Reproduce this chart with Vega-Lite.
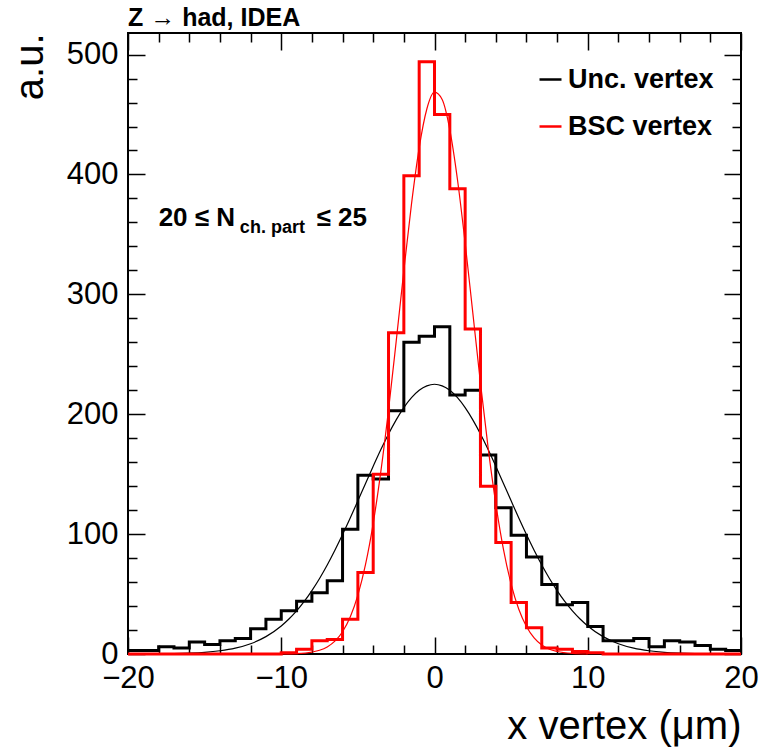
{
  "$schema": "https://vega.github.io/schema/vega-lite/v6.json",
  "autosize": {"type": "none"},
  "padding": {"left": 128, "top": 33, "right": 24, "bottom": 94},
  "width": 613,
  "height": 621,
  "background": "white",
  "title": {"text": "Z → had, IDEA", "anchor": "start", "frame": "group", "font": "Liberation Sans", "fontSize": 25, "fontWeight": "bold", "color": "black", "baseline": "alphabetic", "offset": -19},
  "datasets": {
    "unc_hist": [
      {"x": -20, "v": 3, "s": "Unc. vertex"}, {"x": -19, "v": 3, "s": "Unc. vertex"}, {"x": -18, "v": 6, "s": "Unc. vertex"}, {"x": -17, "v": 5, "s": "Unc. vertex"},
      {"x": -16, "v": 10, "s": "Unc. vertex"}, {"x": -15, "v": 8, "s": "Unc. vertex"}, {"x": -14, "v": 11, "s": "Unc. vertex"}, {"x": -13, "v": 13, "s": "Unc. vertex"},
      {"x": -12, "v": 21, "s": "Unc. vertex"}, {"x": -11, "v": 29, "s": "Unc. vertex"}, {"x": -10, "v": 36, "s": "Unc. vertex"}, {"x": -9, "v": 44, "s": "Unc. vertex"},
      {"x": -8, "v": 51, "s": "Unc. vertex"}, {"x": -7, "v": 61, "s": "Unc. vertex"}, {"x": -6, "v": 104, "s": "Unc. vertex"}, {"x": -5, "v": 149, "s": "Unc. vertex"},
      {"x": -4, "v": 146, "s": "Unc. vertex"}, {"x": -3, "v": 203, "s": "Unc. vertex"}, {"x": -2, "v": 260, "s": "Unc. vertex"}, {"x": -1, "v": 265, "s": "Unc. vertex"},
      {"x": 0, "v": 273, "s": "Unc. vertex"}, {"x": 1, "v": 216, "s": "Unc. vertex"}, {"x": 2, "v": 220, "s": "Unc. vertex"}, {"x": 3, "v": 166, "s": "Unc. vertex"},
      {"x": 4, "v": 122, "s": "Unc. vertex"}, {"x": 5, "v": 99, "s": "Unc. vertex"}, {"x": 6, "v": 81, "s": "Unc. vertex"}, {"x": 7, "v": 58, "s": "Unc. vertex"},
      {"x": 8, "v": 41, "s": "Unc. vertex"}, {"x": 9, "v": 43, "s": "Unc. vertex"}, {"x": 10, "v": 23, "s": "Unc. vertex"}, {"x": 11, "v": 11, "s": "Unc. vertex"},
      {"x": 12, "v": 11, "s": "Unc. vertex"}, {"x": 13, "v": 13, "s": "Unc. vertex"}, {"x": 14, "v": 6, "s": "Unc. vertex"}, {"x": 15, "v": 11, "s": "Unc. vertex"},
      {"x": 16, "v": 10, "s": "Unc. vertex"}, {"x": 17, "v": 7, "s": "Unc. vertex"}, {"x": 18, "v": 4, "s": "Unc. vertex"}, {"x": 19, "v": 3, "s": "Unc. vertex"},
      {"x": 20, "v": 3, "s": "Unc. vertex"}
    ],
    "bsc_hist": [
      {"x": -20, "v": 0, "s": "BSC vertex"}, {"x": -19, "v": 0, "s": "BSC vertex"}, {"x": -18, "v": 0, "s": "BSC vertex"}, {"x": -17, "v": 0, "s": "BSC vertex"},
      {"x": -16, "v": 0, "s": "BSC vertex"}, {"x": -15, "v": 0, "s": "BSC vertex"}, {"x": -14, "v": 0, "s": "BSC vertex"}, {"x": -13, "v": 0, "s": "BSC vertex"},
      {"x": -12, "v": 0, "s": "BSC vertex"}, {"x": -11, "v": 0, "s": "BSC vertex"}, {"x": -10, "v": 1, "s": "BSC vertex"}, {"x": -9, "v": 4, "s": "BSC vertex"},
      {"x": -8, "v": 11, "s": "BSC vertex"}, {"x": -7, "v": 12, "s": "BSC vertex"}, {"x": -6, "v": 29, "s": "BSC vertex"}, {"x": -5, "v": 68, "s": "BSC vertex"},
      {"x": -4, "v": 150, "s": "BSC vertex"}, {"x": -3, "v": 268, "s": "BSC vertex"}, {"x": -2, "v": 399, "s": "BSC vertex"}, {"x": -1, "v": 494, "s": "BSC vertex"},
      {"x": 0, "v": 450, "s": "BSC vertex"}, {"x": 1, "v": 388, "s": "BSC vertex"}, {"x": 2, "v": 271, "s": "BSC vertex"}, {"x": 3, "v": 140, "s": "BSC vertex"},
      {"x": 4, "v": 93, "s": "BSC vertex"}, {"x": 5, "v": 43, "s": "BSC vertex"}, {"x": 6, "v": 22, "s": "BSC vertex"}, {"x": 7, "v": 5, "s": "BSC vertex"},
      {"x": 8, "v": 4, "s": "BSC vertex"}, {"x": 9, "v": 2, "s": "BSC vertex"}, {"x": 10, "v": 1, "s": "BSC vertex"}, {"x": 11, "v": 0, "s": "BSC vertex"},
      {"x": 12, "v": 0, "s": "BSC vertex"}, {"x": 13, "v": 0, "s": "BSC vertex"}, {"x": 14, "v": 0, "s": "BSC vertex"}, {"x": 15, "v": 0, "s": "BSC vertex"},
      {"x": 16, "v": 0, "s": "BSC vertex"}, {"x": 17, "v": 0, "s": "BSC vertex"}, {"x": 18, "v": 0, "s": "BSC vertex"}, {"x": 19, "v": 0, "s": "BSC vertex"},
      {"x": 20, "v": 0, "s": "BSC vertex"}
    ],
    "unc_fit": [
      {"x": -20, "v": 0.03, "s": "Unc. vertex"}, {"x": -18, "v": 0.15, "s": "Unc. vertex"}, {"x": -17, "v": 0.3, "s": "Unc. vertex"}, {"x": -16, "v": 0.7, "s": "Unc. vertex"},
      {"x": -15, "v": 1.4, "s": "Unc. vertex"}, {"x": -14, "v": 2.7, "s": "Unc. vertex"}, {"x": -13, "v": 4.9, "s": "Unc. vertex"}, {"x": -12, "v": 8.6, "s": "Unc. vertex"},
      {"x": -11, "v": 14.5, "s": "Unc. vertex"}, {"x": -10, "v": 23.4, "s": "Unc. vertex"}, {"x": -9.5, "v": 29.2, "s": "Unc. vertex"}, {"x": -9, "v": 36, "s": "Unc. vertex"},
      {"x": -8.5, "v": 43.9, "s": "Unc. vertex"}, {"x": -8, "v": 52.9, "s": "Unc. vertex"}, {"x": -7.5, "v": 63, "s": "Unc. vertex"}, {"x": -7, "v": 74.2, "s": "Unc. vertex"},
      {"x": -6.5, "v": 86.5, "s": "Unc. vertex"}, {"x": -6, "v": 99.6, "s": "Unc. vertex"}, {"x": -5.5, "v": 113.4, "s": "Unc. vertex"}, {"x": -5, "v": 127.8, "s": "Unc. vertex"},
      {"x": -4.5, "v": 142.3, "s": "Unc. vertex"}, {"x": -4, "v": 156.6, "s": "Unc. vertex"}, {"x": -3.5, "v": 170.5, "s": "Unc. vertex"}, {"x": -3, "v": 183.5, "s": "Unc. vertex"},
      {"x": -2.5, "v": 195.3, "s": "Unc. vertex"}, {"x": -2, "v": 205.5, "s": "Unc. vertex"}, {"x": -1.5, "v": 213.8, "s": "Unc. vertex"}, {"x": -1, "v": 220, "s": "Unc. vertex"},
      {"x": -0.5, "v": 223.7, "s": "Unc. vertex"}, {"x": 0, "v": 225, "s": "Unc. vertex"}, {"x": 0.5, "v": 223.7, "s": "Unc. vertex"}, {"x": 1, "v": 220, "s": "Unc. vertex"},
      {"x": 1.5, "v": 213.8, "s": "Unc. vertex"}, {"x": 2, "v": 205.5, "s": "Unc. vertex"}, {"x": 2.5, "v": 195.3, "s": "Unc. vertex"}, {"x": 3, "v": 183.5, "s": "Unc. vertex"},
      {"x": 3.5, "v": 170.5, "s": "Unc. vertex"}, {"x": 4, "v": 156.6, "s": "Unc. vertex"}, {"x": 4.5, "v": 142.3, "s": "Unc. vertex"}, {"x": 5, "v": 127.8, "s": "Unc. vertex"},
      {"x": 5.5, "v": 113.4, "s": "Unc. vertex"}, {"x": 6, "v": 99.6, "s": "Unc. vertex"}, {"x": 6.5, "v": 86.5, "s": "Unc. vertex"}, {"x": 7, "v": 74.2, "s": "Unc. vertex"},
      {"x": 7.5, "v": 63, "s": "Unc. vertex"}, {"x": 8, "v": 52.9, "s": "Unc. vertex"}, {"x": 8.5, "v": 43.9, "s": "Unc. vertex"}, {"x": 9, "v": 36, "s": "Unc. vertex"},
      {"x": 9.5, "v": 29.2, "s": "Unc. vertex"}, {"x": 10, "v": 23.4, "s": "Unc. vertex"}, {"x": 11, "v": 14.5, "s": "Unc. vertex"}, {"x": 12, "v": 8.6, "s": "Unc. vertex"},
      {"x": 13, "v": 4.9, "s": "Unc. vertex"}, {"x": 14, "v": 2.7, "s": "Unc. vertex"}, {"x": 15, "v": 1.4, "s": "Unc. vertex"}, {"x": 16, "v": 0.7, "s": "Unc. vertex"},
      {"x": 17, "v": 0.3, "s": "Unc. vertex"}, {"x": 18, "v": 0.15, "s": "Unc. vertex"}, {"x": 20, "v": 0.03, "s": "Unc. vertex"}
    ],
    "bsc_fit": [
      {"x": -10, "v": 0.07, "s": "BSC vertex"}, {"x": -9, "v": 0.35, "s": "BSC vertex"}, {"x": -8, "v": 1.6, "s": "BSC vertex"}, {"x": -7.5, "v": 3.1, "s": "BSC vertex"},
      {"x": -7, "v": 5.9, "s": "BSC vertex"}, {"x": -6.5, "v": 10.7, "s": "BSC vertex"}, {"x": -6, "v": 18.6, "s": "BSC vertex"}, {"x": -5.5, "v": 30.8, "s": "BSC vertex"},
      {"x": -5, "v": 49.1, "s": "BSC vertex"}, {"x": -4.5, "v": 74.7, "s": "BSC vertex"}, {"x": -4, "v": 109, "s": "BSC vertex"}, {"x": -3.5, "v": 152.3, "s": "BSC vertex"},
      {"x": -3, "v": 203.6, "s": "BSC vertex"}, {"x": -2.5, "v": 260.8, "s": "BSC vertex"}, {"x": -2, "v": 319.8, "s": "BSC vertex"}, {"x": -1.5, "v": 375.5, "s": "BSC vertex"},
      {"x": -1, "v": 422.2, "s": "BSC vertex"}, {"x": -0.5, "v": 454.6, "s": "BSC vertex"}, {"x": 0, "v": 468.6, "s": "BSC vertex"}, {"x": 0.5, "v": 462.5, "s": "BSC vertex"},
      {"x": 1, "v": 437.2, "s": "BSC vertex"}, {"x": 1.5, "v": 395.6, "s": "BSC vertex"}, {"x": 2, "v": 342.8, "s": "BSC vertex"}, {"x": 2.5, "v": 284.5, "s": "BSC vertex"},
      {"x": 3, "v": 226, "s": "BSC vertex"}, {"x": 3.5, "v": 171.9, "s": "BSC vertex"}, {"x": 4, "v": 125.3, "s": "BSC vertex"}, {"x": 4.5, "v": 87.3, "s": "BSC vertex"},
      {"x": 5, "v": 58.3, "s": "BSC vertex"}, {"x": 5.5, "v": 37.3, "s": "BSC vertex"}, {"x": 6, "v": 22.9, "s": "BSC vertex"}, {"x": 6.5, "v": 13.4, "s": "BSC vertex"},
      {"x": 7, "v": 7.5, "s": "BSC vertex"}, {"x": 7.5, "v": 4.0, "s": "BSC vertex"}, {"x": 8, "v": 2.1, "s": "BSC vertex"}, {"x": 9, "v": 0.5, "s": "BSC vertex"},
      {"x": 10, "v": 0.1, "s": "BSC vertex"}
    ],
    "label_main": [
      {"x": -18, "y": 357, "t": "20 ≤ N"},
      {"x": -7.7, "y": 357, "t": "≤ 25"}
    ],
    "label_sub": [
      {"x": -12.7, "y": 351, "t": "ch. part"}
    ]
  },
  "layer": [
    {
      "data": {"name": "unc_hist"},
      "mark": {"type": "line", "interpolate": "step-after", "strokeWidth": 3},
      "encoding": {
        "x": {"field": "x", "type": "quantitative", "scale": {"domain": [-20, 20], "nice": false, "zero": false},
          "axis": {"orient": "bottom", "values": [-20, -10, 0, 10, 20], "tickSize": -17, "labelPadding": 26, "labelFontSize": 31, "labelFont": "Liberation Sans", "labelFlush": false,
            "title": "x vertex (μm)", "titleFont": "Liberation Sans", "titleFontSize": 40, "titleFontWeight": "normal", "titleAnchor": null, "titleAlign": "right", "titleBaseline": "alphabetic", "titleX": 613, "titleY": 84}},
        "y": {"field": "v", "type": "quantitative", "scale": {"domain": [0, 518], "nice": false},
          "axis": {"orient": "left", "values": [0, 100, 200, 300, 400, 500], "tickSize": -17, "labelPadding": 27, "labelFontSize": 31, "labelFont": "Liberation Sans", "labelFlush": false,
            "title": "a.u.", "titleFont": "Liberation Sans", "titleFontSize": 40, "titleFontWeight": "normal", "titleAngle": -90, "titleAnchor": null, "titleAlign": "right", "titleBaseline": "alphabetic", "titleX": -86, "titleY": 0}},
        "color": {"field": "s", "type": "nominal", "scale": {"domain": ["Unc. vertex", "BSC vertex"], "range": ["#000000", "#ff0000"]},
          "legend": {"orient": "none", "legendX": 409, "legendY": 33, "title": null, "symbolType": "stroke", "symbolSize": 484, "symbolStrokeWidth": 2.5, "labelFont": "Liberation Sans", "labelFontSize": 27, "labelFontWeight": "bold", "labelColor": "black", "labelOffset": 4, "rowPadding": 19, "padding": 0}}
      }
    },
    {
      "data": {"name": "unc_fit"},
      "mark": {"type": "line", "interpolate": "monotone", "strokeWidth": 1.2},
      "encoding": {
        "x": {"field": "x", "type": "quantitative", "scale": {"domain": [-20, 20], "nice": false, "zero": false},
          "axis": {"orient": "bottom", "values": [-18, -16, -14, -12, -8, -6, -4, -2, 2, 4, 6, 8, 12, 14, 16, 18], "tickSize": -9, "labels": false, "title": null}},
        "y": {"field": "v", "type": "quantitative", "scale": {"domain": [0, 518], "nice": false},
          "axis": {"orient": "left", "values": [20, 40, 60, 80, 120, 140, 160, 180, 220, 240, 260, 280, 320, 340, 360, 380, 420, 440, 460, 480], "tickSize": -9, "labels": false, "title": null}},
        "color": {"field": "s", "type": "nominal", "scale": {"domain": ["Unc. vertex", "BSC vertex"], "range": ["#000000", "#ff0000"]}}
      }
    },
    {
      "data": {"name": "bsc_hist"},
      "mark": {"type": "line", "interpolate": "step-after", "strokeWidth": 3},
      "encoding": {
        "x": {"field": "x", "type": "quantitative", "scale": {"domain": [-20, 20], "nice": false, "zero": false},
          "axis": {"orient": "top", "values": [-20, -10, 0, 10, 20], "tickSize": -17, "labels": false, "title": null}},
        "y": {"field": "v", "type": "quantitative", "scale": {"domain": [0, 518], "nice": false},
          "axis": {"orient": "right", "values": [0, 100, 200, 300, 400, 500], "tickSize": -17, "labels": false, "title": null}},
        "color": {"field": "s", "type": "nominal", "scale": {"domain": ["Unc. vertex", "BSC vertex"], "range": ["#000000", "#ff0000"]}}
      }
    },
    {
      "data": {"name": "bsc_fit"},
      "mark": {"type": "line", "interpolate": "monotone", "strokeWidth": 1.2},
      "encoding": {
        "x": {"field": "x", "type": "quantitative", "scale": {"domain": [-20, 20], "nice": false, "zero": false},
          "axis": {"orient": "top", "values": [-18, -16, -14, -12, -8, -6, -4, -2, 2, 4, 6, 8, 12, 14, 16, 18], "tickSize": -9, "labels": false, "title": null}},
        "y": {"field": "v", "type": "quantitative", "scale": {"domain": [0, 518], "nice": false},
          "axis": {"orient": "right", "values": [20, 40, 60, 80, 120, 140, 160, 180, 220, 240, 260, 280, 320, 340, 360, 380, 420, 440, 460, 480], "tickSize": -9, "labels": false, "title": null}},
        "color": {"field": "s", "type": "nominal", "scale": {"domain": ["Unc. vertex", "BSC vertex"], "range": ["#000000", "#ff0000"]}}
      }
    },
    {
      "data": {"name": "label_main"},
      "mark": {"type": "text", "align": "left", "baseline": "alphabetic", "font": "Liberation Sans", "fontSize": 26, "fontWeight": "bold", "color": "black"},
      "encoding": {
        "x": {"field": "x", "type": "quantitative", "axis": null},
        "y": {"field": "y", "type": "quantitative", "axis": null},
        "text": {"field": "t"}
      }
    },
    {
      "data": {"name": "label_sub"},
      "mark": {"type": "text", "align": "left", "baseline": "alphabetic", "font": "Liberation Sans", "fontSize": 18, "fontWeight": "bold", "color": "black"},
      "encoding": {
        "x": {"field": "x", "type": "quantitative", "axis": null},
        "y": {"field": "y", "type": "quantitative", "axis": null},
        "text": {"field": "t"}
      }
    }
  ],
  "resolve": {"axis": {"x": "independent", "y": "independent"}},
  "config": {
    "font": "Liberation Sans",
    "view": {"stroke": "black", "strokeWidth": 2},
    "axis": {"domain": false, "grid": false, "tickColor": "black", "tickWidth": 1.5, "labelColor": "black", "titleColor": "black"}
  }
}
